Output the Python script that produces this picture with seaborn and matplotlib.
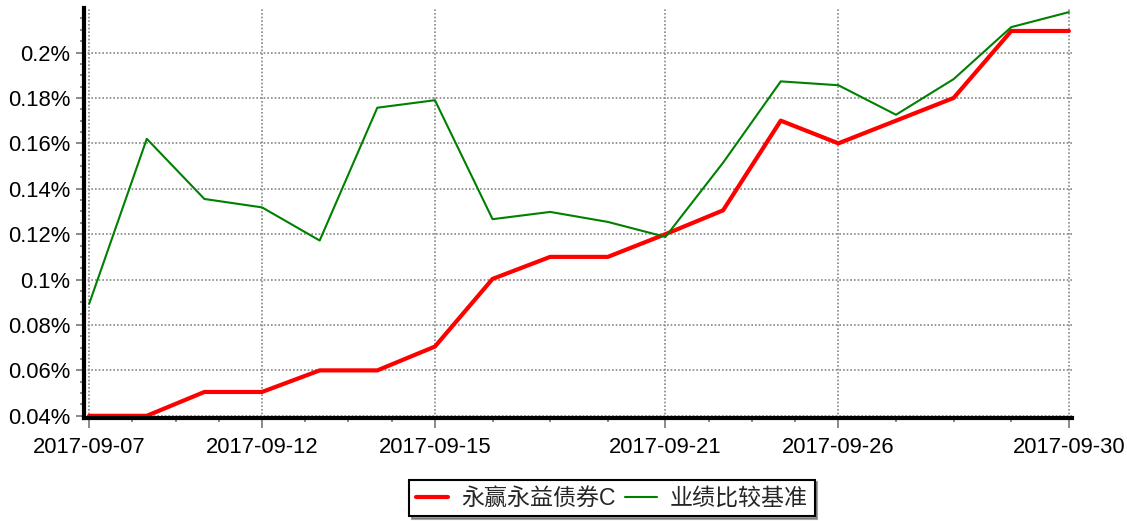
"""
Rendement cumulé du fonds vs indice de référence
"""
import matplotlib
matplotlib.use("Agg")
import matplotlib.pyplot as plt
import seaborn as sns
import numpy as np
import pandas as pd
from matplotlib.ticker import FixedLocator, FuncFormatter

dates = ["2017-09-07", "2017-09-08", "2017-09-11", "2017-09-12", "2017-09-13",
         "2017-09-14", "2017-09-15", "2017-09-18", "2017-09-19", "2017-09-20",
         "2017-09-21", "2017-09-22", "2017-09-25", "2017-09-26", "2017-09-27",
         "2017-09-28", "2017-09-29", "2017-09-30"]
fund = [0.040, 0.040, 0.0505, 0.0505, 0.060, 0.060, 0.0705, 0.1003, 0.110, 0.110,
        0.120, 0.1305, 0.170, 0.160, 0.170, 0.180, 0.2095, 0.2095]
bench = [0.0893, 0.162, 0.1355, 0.1318, 0.1172, 0.1757, 0.179, 0.1266, 0.1298, 0.1254,
         0.1188, 0.1515, 0.1873, 0.1856, 0.1726, 0.1883, 0.2112, 0.2178]
series_names = ["永赢永益债券C", "业绩比较基准"]
label_idx = [0, 3, 6, 10, 13, 17]
y_ticks = [0.04, 0.06, 0.08, 0.10, 0.12, 0.14, 0.16, 0.18, 0.20]

df = pd.DataFrame({
    "idx": list(range(len(dates))) * 2,
    "value": fund + bench,
    "serie": [series_names[0]] * len(dates) + [series_names[1]] * len(dates),
})

sns.set_theme(style="white")
plt.rcParams['font.family'] = ['Liberation Sans', 'Noto Sans CJK SC']

fig = plt.figure(figsize=(11.27, 5.21), dpi=100)
ax = fig.add_axes([0.0745, 0.198, 0.8765, 0.787])

sns.lineplot(data=df, x="idx", y="value", hue="serie", size="serie",
             sizes={series_names[0]: 3.0, series_names[1]: 1.5},
             palette={series_names[0]: "#ff0000", series_names[1]: "#008000"},
             ax=ax, legend=False)
ax.set_xlabel("")
ax.set_ylabel("")

ax.set_xlim(-0.09, 17.05)
ax.set_ylim(0.0391, 0.2197)

# ticks majeurs / mineurs
ax.xaxis.set_major_locator(FixedLocator(label_idx))
ax.set_xticklabels([dates[i] for i in label_idx])
minor_x = []
for a, b in zip(label_idx[:-1], label_idx[1:]):
    minor_x += [a + (b - a) * k / 4 for k in (1, 2, 3)]
ax.xaxis.set_minor_locator(FixedLocator(minor_x))
ax.yaxis.set_major_locator(FixedLocator(y_ticks))
ax.yaxis.set_minor_locator(FixedLocator(np.arange(0.045, 0.22, 0.005)))
ax.yaxis.set_major_formatter(FuncFormatter(lambda v, p: f"{v:g}%"))

ax.tick_params(axis="both", which="major", labelsize=15.8, colors="#808080",
               labelcolor="black", width=1.3)
ax.tick_params(axis="x", which="major", length=7, pad=7, direction="out", bottom=True)
ax.tick_params(axis="y", which="major", length=6, pad=4, direction="out", left=True)
ax.tick_params(axis="both", which="minor", length=3, width=1.3, colors="#808080",
               bottom=True, left=True)

ax.grid(True, which="major", color="#888888", linestyle=(0, (1, 1.2)), linewidth=1.2)
ax.set_axisbelow(True)

for s in ["top", "right"]:
    ax.spines[s].set_visible(False)
for s in ["left", "bottom"]:
    ax.spines[s].set_color("black")
    ax.spines[s].set_linewidth(3)

# legende
handles = [plt.Line2D([], [], color="#ff0000", lw=3),
           plt.Line2D([], [], color="#008000", lw=1.5)]
leg = fig.legend(handles, series_names, loc="center", bbox_to_anchor=(0.543, 0.044),
                 ncol=2, fontsize=16.6, frameon=True, fancybox=False, shadow=True,
                 handlelength=1.4, handletextpad=0.55, columnspacing=0.4,
                 borderpad=0.3, borderaxespad=0)
leg.get_frame().set_edgecolor("black")
leg.get_frame().set_linewidth(1.5)

plt.savefig("out.png", dpi=100)
